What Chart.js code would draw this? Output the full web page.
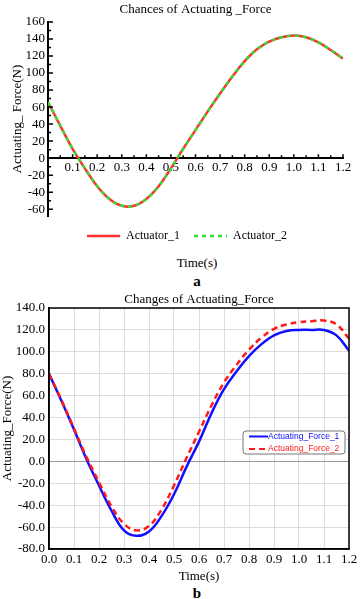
<!DOCTYPE html>
<html lang="en">
<head>
<meta charset="UTF-8">
<title>Changes of Actuating_Force</title>
<style>
  body { margin: 0; background: #fff; overflow: hidden; font-family: "Liberation Serif", serif; color: #000; }
  .wrap { position: relative; width: 364px; height: 599px; }
  canvas { position: absolute; left: 0; }
  #ca { top: 0; }
  #cb { top: 288px; }
  .lbl { position: absolute; left: 48px; width: 298px; text-align: center; font-size: 13px; line-height: 16px; }
  #ta { top: 255px; }
  #la, #lb { font-weight: bold; font-size: 15px; line-height: 16px; }
  #la { top: 273px; }
  #lb { top: 585px; }
</style>
</head>
<body>
<div class="wrap">
  <canvas id="ca" width="364" height="252"></canvas>
  <div class="lbl" id="ta">Time(s)</div>
  <div class="lbl" id="la">a</div>
  <canvas id="cb" width="364" height="296"></canvas>
  <div class="lbl" id="lb">b</div>
</div>

<script src="https://cdn.jsdelivr.net/npm/chart.js"></script>
<script>
  // time axis (s), shared by both plots
  const times = [0, 0.05, 0.1, 0.15, 0.2, 0.25, 0.3, 0.35, 0.4, 0.45, 0.5, 0.55, 0.6,
                 0.65, 0.7, 0.75, 0.8, 0.85, 0.9, 0.95, 1.0, 1.05, 1.1, 1.15, 1.2];

  // plot a
  const actuator1 = [66, 38, 11, -12, -33, -48, -56, -56, -48, -33, -12, 11, 33,
                     55, 76, 96, 114, 128, 137, 142, 144, 142, 136, 127, 117];
  const actuator2 = [66, 38, 11, -12, -33, -48, -56, -56, -48, -33, -12, 11, 33,
                     55, 76, 96, 114, 128, 137, 142, 144, 142, 136, 127, 117];
  const yTicksA = [-60, -40, -20, 0, 20, 40, 60, 80, 100, 120, 140, 160];

  // plot b
  const force1 = [80, 55, 29, 2, -22, -45, -63, -68, -64, -50, -30, -5, 18,
                  44, 66, 82, 96, 107, 115, 119, 120, 120, 120, 115, 101];
  const force2 = [80, 56, 30, 4, -19, -41, -57, -63, -59, -44, -22, 3, 27,
                  51, 72, 88, 102, 113, 121, 125, 127, 128, 128.5, 125, 112];

  const pts = vals => times.map((t, i) => ({ x: t, y: vals[i] }));
  const serif = "'Liberation Serif', 'Times New Roman', serif";

  // small inward tick marks on plot a, legend nudged a bit left
  const tickMarks = {
    id: 'tickMarks',
    afterLayout(chart) {
      chart.legend.left -= 17;
    },
    afterDraw(chart) {
      const { ctx, scales: { x, y } } = chart;
      ctx.save();
      ctx.strokeStyle = '#000';
      ctx.lineWidth = 1.5;
      ctx.beginPath();
      for (let v = -60; v <= 160; v += 10) {
        const py = y.getPixelForValue(v);
        ctx.moveTo(x.left, py);
        ctx.lineTo(x.left + (v % 20 === 0 ? 5 : 3), py);
      }
      const y0 = y.getPixelForValue(0);
      for (let i = 1; i <= 24; i++) {
        const px = x.getPixelForValue(i * 0.05);
        ctx.moveTo(px, y0);
        ctx.lineTo(px, y0 - (i % 2 === 0 ? 4 : 3));
      }
      ctx.stroke();
      ctx.restore();
    }
  };

  const baseLabels = Chart.defaults.plugins.legend.labels.generateLabels;

  new Chart(document.getElementById('ca'), {
    type: 'line',
    data: {
      datasets: [
        { label: 'Actuator_1', data: pts(actuator1), borderColor: '#ff3030', backgroundColor: '#ff3030',
          borderWidth: 2.5, pointRadius: 0, tension: 0.4, order: 1 },
        { label: 'Actuator_2', data: pts(actuator2), borderColor: '#33dd33', backgroundColor: '#33dd33',
          borderWidth: 2.5, borderDash: [4, 4], pointRadius: 0, tension: 0.4, order: 0 }
      ]
    },
    options: {
      responsive: false,
      animation: false,
      layout: { padding: { right: 21, bottom: 0 } },
      plugins: {
        title: {
          display: true, text: 'Chances of Actuating _Force', fullSize: false,
          color: '#000', font: { family: serif, size: 13, weight: 'normal' },
          padding: { top: 2, bottom: 4.4 }
        },
        legend: {
          position: 'bottom',
          fullSize: false,
          labels: {
            usePointStyle: true, pointStyle: 'line', pointStyleWidth: 33,
            color: '#000', font: { family: serif, size: 12 }, padding: 14,
            sort: (a, b) => a.datasetIndex - b.datasetIndex,
            generateLabels: chart => baseLabels(chart).map(l => {
              const ds = chart.data.datasets[l.datasetIndex];
              return { ...l, lineDash: ds.borderDash || [], lineWidth: 2.5, strokeStyle: ds.borderColor };
            })
          }
        },
        tooltip: { enabled: false }
      },
      scales: {
        x: {
          type: 'linear', min: 0, max: 1.2,
          position: { y: 0 },
          grid: { drawOnChartArea: false, drawTicks: false },
          border: { display: true, color: '#000', width: 2 },
          ticks: {
            stepSize: 0.1, includeBounds: false, padding: 2, color: '#000', maxRotation: 0,
            font: { family: serif, size: 13 },
            callback: v => (Math.abs(v) < 1e-9 ? '' : v.toFixed(1))
          }
        },
        y: {
          min: -68, max: 160,
          afterFit: s => { s.width = 48; },
          afterBuildTicks: s => { s.ticks = yTicksA.map(v => ({ value: v })); },
          grid: { drawOnChartArea: false, drawTicks: false },
          border: { display: true, color: '#000', width: 2 },
          ticks: { padding: 3, color: '#000', autoSkip: false, font: { family: serif, size: 13 } },
          title: {
            display: true, text: 'Actuating_ Force(N)', color: '#000',
            font: { family: serif, size: 13 }, padding: { top: 10, bottom: 0 }
          }
        }
      }
    },
    plugins: [tickMarks]
  });

  // frame and boxed legend for plot b
  const frameLegend = {
    id: 'frameLegend',
    afterDraw(chart) {
      const { ctx, chartArea: a } = chart;
      ctx.save();
      ctx.strokeStyle = '#000';
      ctx.lineWidth = 1.5;
      ctx.strokeRect(a.left, a.top, a.right - a.left, a.bottom - a.top);

      const bx = a.right - 106, by = a.top + 123, bw = 102, bh = 23;
      ctx.beginPath();
      ctx.roundRect(bx, by, bw, bh, 3);
      ctx.fillStyle = '#fff';
      ctx.fill();
      ctx.lineWidth = 1;
      ctx.strokeStyle = '#777';
      ctx.stroke();

      ctx.font = "8.5px 'Liberation Sans', Arial, sans-serif";
      ctx.textBaseline = 'middle';
      chart.data.datasets.forEach((ds, i) => {
        const ly = by + 5.5 + i * 12.5;
        ctx.beginPath();
        ctx.strokeStyle = ds.borderColor;
        ctx.lineWidth = 2;
        ctx.setLineDash(ds.borderDash || []);
        ctx.moveTo(bx + 6, ly);
        ctx.lineTo(bx + 25, ly);
        ctx.stroke();
        ctx.setLineDash([]);
        ctx.fillStyle = ds.borderColor;
        ctx.fillText(ds.label, bx + 25, ly);
      });
      ctx.restore();
    }
  };

  new Chart(document.getElementById('cb'), {
    type: 'line',
    data: {
      datasets: [
        { label: 'Actuating_Force_1', data: pts(force1), borderColor: '#1010ff',
          borderWidth: 2.5, pointRadius: 0, tension: 0.4, order: 1 },
        { label: 'Actuating_Force_2', data: pts(force2), borderColor: '#ff1a1a',
          borderWidth: 2.5, borderDash: [6, 4], pointRadius: 0, tension: 0.4, order: 0 }
      ]
    },
    options: {
      responsive: false,
      animation: false,
      layout: { padding: { right: 15 } },
      plugins: {
        title: {
          display: true, text: 'Changes of Actuating_Force', fullSize: false,
          color: '#000', font: { family: serif, size: 13, weight: 'normal' },
          padding: { top: 4, bottom: 0.4 }
        },
        legend: { display: false },
        tooltip: { enabled: false }
      },
      scales: {
        x: {
          type: 'linear', min: 0, max: 1.2,
          afterFit: s => { s.height = 35; },
          grid: { color: '#dcdcdc', drawTicks: false },
          border: { color: '#000', width: 1.5 },
          ticks: {
            stepSize: 0.1, padding: 3, color: '#000', maxRotation: 0,
            font: { family: serif, size: 13 },
            callback: v => v.toFixed(1)
          },
          title: {
            display: true, text: 'Time(s)', color: '#000',
            font: { family: serif, size: 13 }, padding: { top: 0, bottom: 0 }
          }
        },
        y: {
          min: -80, max: 140,
          afterFit: s => { s.width = 49; },
          grid: { color: c => (c.tick && c.tick.value === 0 ? '#999' : '#dcdcdc'), drawTicks: false },
          border: { color: '#000', width: 1.5 },
          ticks: {
            stepSize: 20, padding: 4, color: '#000',
            font: { family: serif, size: 13 },
            callback: v => v.toFixed(1)
          },
          title: {
            display: true, text: 'Actuating_Force(N)', color: '#000',
            font: { family: serif, size: 13 }, padding: { top: 0, bottom: 0 }
          }
        }
      }
    },
    plugins: [frameLegend]
  });
</script>
</body>
</html>
